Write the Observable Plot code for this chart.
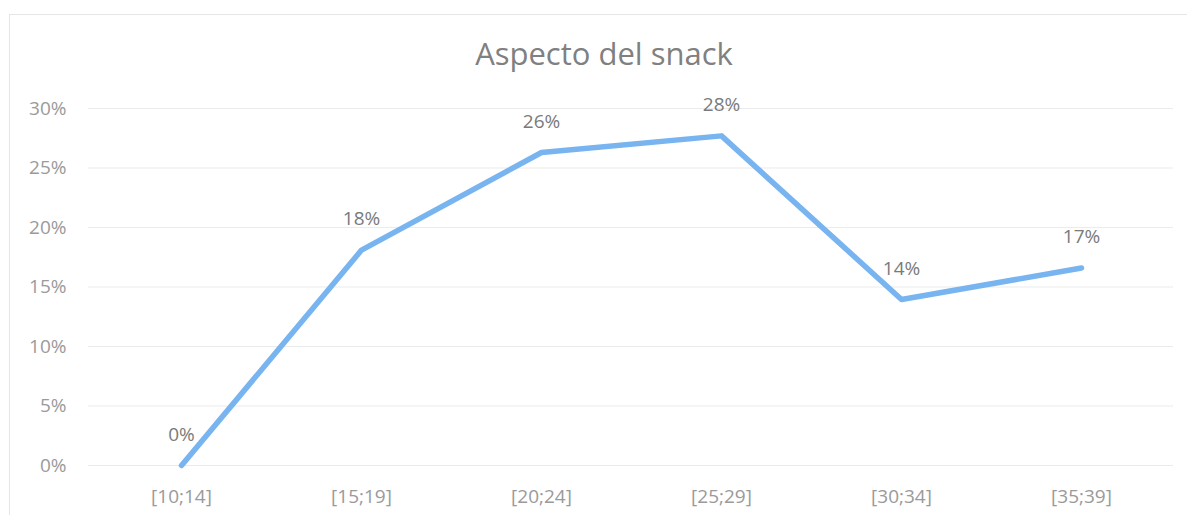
<!DOCTYPE html>
<html>
<head>
<meta charset="utf-8">
<script src="https://cdn.jsdelivr.net/npm/d3@7"></script>
<script src="https://cdn.jsdelivr.net/npm/@observablehq/plot@0.6"></script>
<style>
  html, body { margin: 0; padding: 0; background: #fff; }
  #wrap { position: relative; width: 1187px; height: 515px; overflow: hidden; }
  #frame { position: absolute; left: 9px; top: 14px; width: 1190px; height: 520px;
           border-left: 1px solid #e6e6e6; border-top: 1px solid #e6e6e6; box-sizing: border-box; }
  #title { position: absolute; left: 0; width: 1208px; top: 32px; text-align: center;
           font-family: "Open Sans", sans-serif; font-size: 31px; color: #808080; }
  #chart { position: absolute; left: 0; top: 0; }
</style>
</head>
<body>
<div id="wrap">
  <div id="frame"></div>
  <div id="chart"></div>
  <div id="title">Aspecto del snack</div>
</div>
<script>
const categories = ["[10;14]", "[15;19]", "[20;24]", "[25;29]", "[30;34]", "[35;39]"];
const values = [0, 18.1, 26.3, 27.7, 13.95, 16.6];
const yTicks = [0, 5, 10, 15, 20, 25, 30];

const data = categories.map((c, i) => ({cat: c, v: values[i]}));

const chart = Plot.plot({
  width: 1187,
  height: 515,
  marginTop: 108,
  marginBottom: 50,
  marginLeft: 88,
  marginRight: 14,
  style: {fontFamily: "'Open Sans', sans-serif", fontSize: "19px", background: "transparent", overflow: "visible"},
  x: {type: "point", domain: categories, padding: 0.5, align: 0.5, label: null},
  y: {domain: [0, 30], label: null},
  marks: [
    Plot.gridY(yTicks, {stroke: "#ebebeb", strokeOpacity: 1, strokeWidth: 1}),
    Plot.axisY({ticks: yTicks, tickSize: 0, tickPadding: 22, tickFormat: d => d + "%", fill: "#9a9a9a", fontSize: 19, label: null}),
    Plot.axisX({tickSize: 0, tickPadding: 24, fill: "#9a9a9a", fontSize: 19, label: null}),
    Plot.line(data, {x: "cat", y: "v", stroke: "#78b4f0", strokeWidth: 5.5, strokeLinejoin: "round", strokeLinecap: "round"}),
    Plot.text(data, {x: "cat", y: "v", text: d => Math.round(d.v) + "%", dy: -31, fill: "#7a7a7a", fontSize: 19})
  ]
});
document.getElementById("chart").append(chart);
</script>
</body>
</html>
